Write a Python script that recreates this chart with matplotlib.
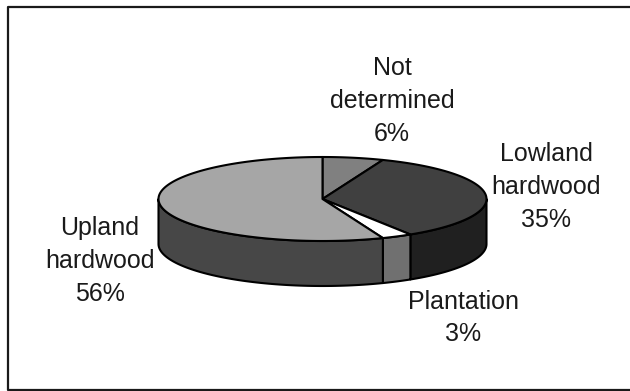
import numpy as np
import matplotlib
matplotlib.use('Agg')
import matplotlib.pyplot as plt
from matplotlib.patches import Polygon

# forest type shares, clockwise from 12 o'clock
names = ['Not\ndetermined', 'Lowland\nhardwood', 'Plantation', 'Upland\nhardwood']
shares = [6, 35, 3, 56]
top_colors = ['#808080', '#404040', '#ffffff', '#a6a6a6']
side_colors = ['#606060', '#202020', '#707070', '#474747']
label_pos = [(392, 101), (546, 187), (463, 318), (100, 261)]

# pie geometry in pixels
cx, cy = 322.5, 199
rx, ry = 164, 42
depth = 45

def rim(t):
    return cx + rx * np.sin(t), cy - ry * np.cos(t)

fig = plt.figure(figsize=(6.30, 3.91), dpi=100)
ax = fig.add_axes([0, 0, 1, 1])
ax.set_xlim(0, 630)
ax.set_ylim(391, 0)
ax.axis('off')

# outer frame, open on the right side
ax.plot([630, 7.5, 7.5, 630], [6.5, 6.5, 390, 390], color='#1a1a1a', lw=1.6, clip_on=False)

edges = np.cumsum([0] + shares) / sum(shares) * 2 * np.pi

# side walls: only the front half of the rim can be seen
for i in range(len(shares)):
    a = max(edges[i], np.pi / 2)
    b = min(edges[i + 1], 3 * np.pi / 2)
    if a >= b:
        continue
    t = np.linspace(a, b, 80)
    x, y = rim(t)
    pts = np.r_[np.c_[x, y], np.c_[x, y + depth][::-1]]
    ax.add_patch(Polygon(pts, closed=True, fc=side_colors[i], ec='black', lw=1.5, joinstyle='round'))

# top faces
for i in range(len(shares)):
    t = np.linspace(edges[i], edges[i + 1], 200)
    x, y = rim(t)
    pts = np.r_[[[cx, cy]], np.c_[x, y]]
    ax.add_patch(Polygon(pts, closed=True, fc=top_colors[i], ec='black', lw=1.5, joinstyle='round'))

for name, share, (lx, ly) in zip(names, shares, label_pos):
    ax.text(lx, ly, f'{name}\n{share}%', ha='center', va='center', multialignment='center',
            family='Liberation Sans', fontsize=18, color='#1a1a1a', linespacing=1.45)

fig.savefig('out.png', dpi=100)
